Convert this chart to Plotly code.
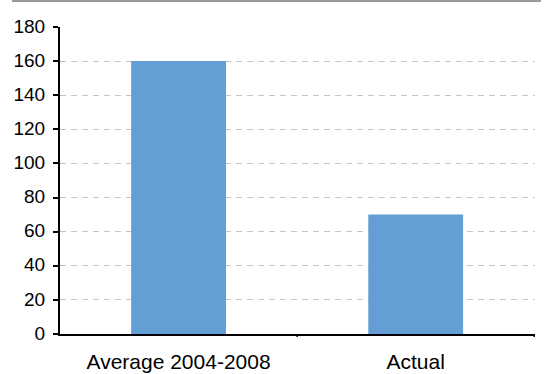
import plotly.graph_objects as go

categories = ["Average 2004-2008", "Actual"]
values = [160, 70]
y_ticks = [0, 20, 40, 60, 80, 100, 120, 140, 160, 180]

W, H = 547, 374
L, R, T, B = 60, 12, 27, 40

fig = go.Figure(
    go.Bar(
        x=categories,
        y=values,
        marker=dict(color="#659ed4", line=dict(width=0)),
        hoverinfo="skip",
    )
)

plot_w = W - L - R
plot_h = H - T - B

fig.update_layout(
    width=W,
    height=H,
    margin=dict(l=L, r=R, t=T, b=B, pad=0),
    paper_bgcolor="white",
    plot_bgcolor="white",
    bargap=0.6,
    showlegend=False,
    font=dict(family="Liberation Sans, Arial, sans-serif", size=19, color="#000"),
    xaxis=dict(
        automargin=False,
        showline=True,
        linecolor="#000",
        linewidth=2,
        ticks="",
        showgrid=False,
        tickfont=dict(size=21),
        ticklabelstandoff=8,
    ),
    yaxis=dict(
        automargin=False,
        range=[0, 180],
        tickvals=y_ticks,
        showline=True,
        linecolor="#000",
        linewidth=2,
        ticks="outside",
        ticklen=5,
        tickwidth=1.5,
        tickcolor="#000",
        showgrid=True,
        gridcolor="#c4c4c4",
        gridwidth=1,
        griddash="6px,5px",
        zeroline=False,
        tickfont=dict(size=19),
        ticklabelstandoff=4,
        ticklabelshift=-1,
    ),
)

# small tick marks at category boundaries on the x axis
for xb in [0.5, 1.5]:
    fig.add_shape(
        type="line", xref="x", yref="paper",
        x0=xb, x1=xb, y0=0, y1=-3 / plot_h,
        line=dict(color="#000", width=1.5),
    )

# thin gray rule along the top of the figure
fig.add_shape(
    type="rect", xref="paper", yref="paper",
    x0=(12 - L) / plot_w, x1=(541 - L) / plot_w,
    y0=(H - B - 2) / plot_h, y1=(H - B) / plot_h,
    fillcolor="#9a9a9a", line=dict(width=0),
)

fig.write_html("out.html")
